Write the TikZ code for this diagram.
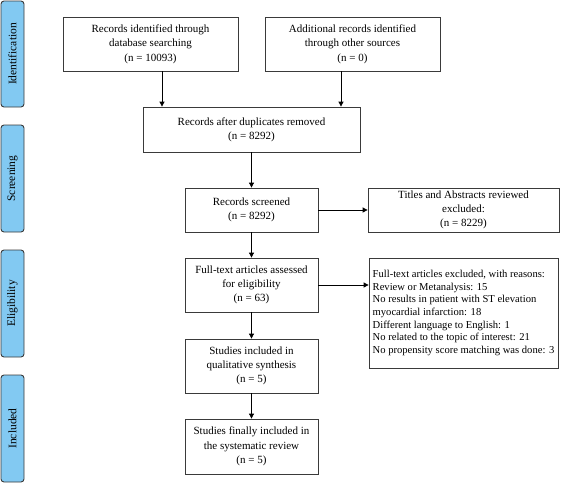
\documentclass[tikz,border=0pt]{standalone}
\usepackage{fontspec}
\setmainfont{Liberation Serif}
\usetikzlibrary{arrows.meta}
\definecolor{sideblue}{HTML}{82C9F2}
\definecolor{edge}{HTML}{3A3A3A}
\begin{document}
\begin{tikzpicture}[x=1pt,y=-1pt,
  box/.style={draw=edge,line width=0.8pt,inner sep=2pt,align=center,font=\fontsize{11}{14.3}\selectfont},
  sidebox/.style={draw=edge,fill=sideblue,line width=0.9pt,rounded corners=3pt},
  sidetext/.style={rotate=90,font=\fontsize{11.5}{12}\selectfont},
  arr/.style={-{Triangle[length=5pt,width=5pt]},draw=black,line width=0.8pt}]
\useasboundingbox (0,0) rectangle (563,483);
% side labels
\draw[sidebox] (1,1) rectangle (24,107) node[midway,sidetext] (sl1) {Identification};
\draw[sidebox] (1,125) rectangle (24,232) node[midway,sidetext] (sl2) {Screening};
\draw[sidebox] (1,250) rectangle (24,357) node[midway,sidetext] (sl3) {Eligibility};
\draw[sidebox] (1,375) rectangle (24,482) node[midway,sidetext] (sl4) {Included};
% boxes
\node[box,minimum width=175pt,minimum height=54pt] (b1) at (150.5,44) {Records identified through\\database searching\\(n = 10093)};
\node[box,minimum width=175pt,minimum height=54pt] (b2) at (352.5,44) {Additional records identified\\through other sources\\(n = 0)};
\node[box,minimum width=217pt,minimum height=45pt] (b3) at (251.5,129.5) {Records after duplicates removed\\(n = 8292)};
\node[box,minimum width=133pt,minimum height=44pt] (b4) at (251.5,210) {Records screened\\(n = 8292)};
\node[box,minimum width=191pt,minimum height=44pt] (b5) at (463.5,210) {Titles and Abstracts reviewed\\excluded:\\(n = 8229)};
\node[box,minimum width=133pt,minimum height=54pt] (b6) at (251.5,285) {Full-text articles assessed\\for eligibility\\(n = 63)};
\node[box,minimum width=189pt,minimum height=110pt,align=left,font=\fontsize{10.6}{12.7}\selectfont] (b7) at (463.5,313) {Full-text articles excluded, with reasons:\\Review or Metanalysis: 15\\No results in patient with ST elevation\\myocardial infarction: 18\\Different language to English: 1\\No related to the topic of interest: 21\\No propensity score matching was done: 3};
\node[box,minimum width=133pt,minimum height=54pt] (b8) at (251.5,366) {Studies included in\\qualitative synthesis\\(n = 5)};
\node[box,minimum width=133pt,minimum height=55pt] (b9) at (251.5,446.5) {Studies finally included in\\the systematic review\\(n = 5)};
% arrows
\draw[arr] (b1.south -| 162,0) -- (b3.north -| 162,0);
\draw[arr] (b2.south -| 341,0) -- (b3.north -| 341,0);
\draw[arr] (b3) -- (b4);
\draw[arr] (b4) -- (b5);
\draw[arr] (b4) -- (b6);
\draw[arr] (b6.east) -- (b7.west |- b6.east);
\draw[arr] (b6) -- (b8);
\draw[arr] (b8) -- (b9);
\end{tikzpicture}
\end{document}
